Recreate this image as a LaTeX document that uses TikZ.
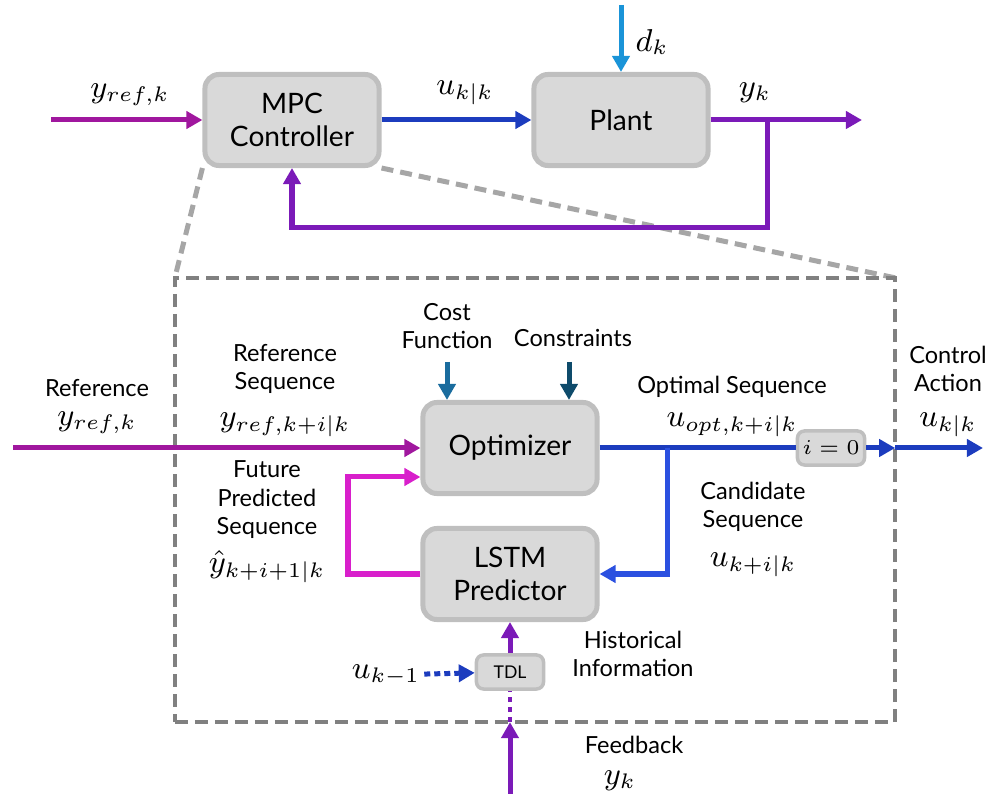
\documentclass[tikz,border=0pt]{standalone}
\usepackage{fontspec}
\setmainfont{Lato}
\usepackage{amsmath}
\usetikzlibrary{arrows.meta,backgrounds}
\definecolor{boxfill}{HTML}{D9D9D9}
\definecolor{boxline}{HTML}{BFBFBF}
\definecolor{framegray}{HTML}{808080}
\definecolor{zoomgray}{HTML}{A6A6A6}
\definecolor{refc}{HTML}{A0179E}
\definecolor{loopc}{HTML}{D81FCB}
\definecolor{uc}{HTML}{1C3CBE}
\definecolor{candc}{HTML}{2B50E0}
\definecolor{dc}{HTML}{1A94D8}
\definecolor{yc}{HTML}{7B1AB8}
\definecolor{costc}{HTML}{1A6C9E}
\definecolor{consc}{HTML}{0E4B6B}
\newcommand{\blkfont}{\fontsize{8}{9.3}\selectfont}
\newcommand{\labfont}{\fontsize{6.7}{8.1}\selectfont}
\newcommand{\sigfont}{\fontsize{8.7}{10}\selectfont}
\newcommand{\tagfont}{\fontsize{5}{6}\selectfont}

\begin{document}
\begin{tikzpicture}
  [x=0.01cm,y=-0.01cm,>={Triangle[length=0.16cm,width=0.17cm]},
   block/.style={draw=boxline,fill=boxfill,line width=0.05cm,rounded corners=0.14cm,
     minimum width=1.74cm,minimum height=0.91cm,align=center,font=\blkfont},
   tagbox/.style={draw=boxline,fill=boxfill,line width=0.035cm,rounded corners=0.07cm,
     minimum width=0.67cm,minimum height=0.34cm,inner sep=0pt},
   lab/.style={align=center,font=\labfont,inner sep=1pt},
   sig/.style={font=\sigfont,inner sep=1pt},
   wire/.style={line width=0.05cm,->}]

  \useasboundingbox (0,0) rectangle (990,794);

  % top loop
  \node[block] (mpc) at (292,120) {MPC\\Controller};
  \node[block] (plant) at (621,120) {Plant};
  \coordinate (refin) at (51,120);
  \coordinate (dkin) at (621,5);
  \coordinate (yout) at (862,120);
  \coordinate (ybr) at (767,120);
  \coordinate (fbk) at (767,228);

  \node[sig] (yref) at (130,95) {$y_{ref,k}$};
  \node[sig] (ukk) at (465,93) {$u_{k|k}$};
  \node[sig] (dk) at (652,42) {$d_k$};
  \node[sig] (yk) at (755,93) {$y_k$};

  \draw[wire,refc] (refin) -- (mpc);
  \draw[wire,uc] (mpc) -- (plant);
  \draw[wire,dc] (dkin) -- (plant);
  \draw[wire,yc] (plant) -- (yout);
  \draw[wire,yc] (ybr) -- (fbk) -| (mpc.south);

  % inside the controller
  \node[draw=framegray,line width=0.04cm,dash pattern=on 0.13cm off 0.07cm,
    minimum width=7.2cm,minimum height=4.44cm,outer sep=0pt] (zoomin) at (535,500) {};
  \begin{scope}[on background layer]
    \draw[zoomgray,line width=0.05cm,dash pattern=on 0.12cm off 0.07cm]
      (mpc.south west) -- (zoomin.north west)
      (mpc.south east) -- (zoomin.north east);
  \end{scope}

  \node[block] (opt) at (510,448) {Optimizer};
  \node[block] (lstm) at (510,574) {LSTM\\Predictor};
  \node[tagbox] (tdl) at (510,672) {\tagfont TDL};
  \node[tagbox] (sel) at (831,448) {\fontsize{6}{7}\selectfont$i=0$};

  \coordinate (refin2) at (13,448);
  \coordinate (costin) at (447,362);
  \coordinate (consin) at (569,362);
  \coordinate (cbr) at (667,448);
  \coordinate (lp) at (348,477);
  \coordinate (ctl) at (983,448);
  \coordinate (fbin) at (510,794);

  \node[lab] (reftxt) at (97,388) {Reference};
  \node[sig] (yrefk) at (97,423) {$y_{ref,k}$};
  \node[lab] (refseq) at (285,369) {Reference\\Sequence};
  \node[sig] (yrefseq) at (285,425) {$y_{ref,k+i|k}$};
  \node[lab] (futseq) at (267,500) {Future\\Predicted\\Sequence};
  \node[sig] (yhat) at (267,567) {$\hat{y}_{k+i+1|k}$};
  \node[lab] (costtxt) at (447,326) {Cost\\Function};
  \node[lab] (constxt) at (573,338) {Constraints};
  \node[lab] (opttxt) at (732,387) {Optimal Sequence};
  \node[sig] (uopt) at (732,425) {$u_{opt,k+i|k}$};
  \node[lab] (ctltxt) at (948,369) {Control\\Action};
  \node[sig] (uctl) at (948,425) {$u_{k|k}$};
  \node[lab] (candtxt) at (753,507) {Candidate\\Sequence};
  \node[sig] (ucand) at (753,565) {$u_{k+i|k}$};
  \node[sig] (ukm) at (386,675) {$u_{k-1}$};
  \node[lab] (histtxt) at (633,654) {Historical\\Information};
  \node[lab] (fbtxt) at (634,745) {Feedback};
  \node[sig] (ykfb) at (620,781) {$y_k$};

  \draw[wire,refc] (refin2) -- (opt);
  \draw[wire,costc] (costin) -- (costin |- opt.north);
  \draw[wire,consc] (consin) -- (consin |- opt.north);
  \draw[line width=0.05cm,uc] (opt) -- (sel);
  \draw[wire,uc] (sel) -- (zoomin.east |- sel);
  \draw[wire,uc] (zoomin.east |- sel) -- (ctl);
  \draw[wire,candc] (cbr) |- (lstm.east);
  \draw[wire,loopc] (lstm.west) -| (lp) -- (lp -| opt.west);
  \draw[wire,uc,dash pattern=on 0.06cm off 0.04cm] (ukm) -- (tdl);
  \draw[wire,yc] (fbin) -- (fbin |- zoomin.south);
  \draw[yc,line width=0.04cm,dash pattern=on 0.05cm off 0.05cm] (fbin |- zoomin.south) -- (tdl);
  \draw[wire,yc] (tdl) -- (lstm);
\end{tikzpicture}
\end{document}
